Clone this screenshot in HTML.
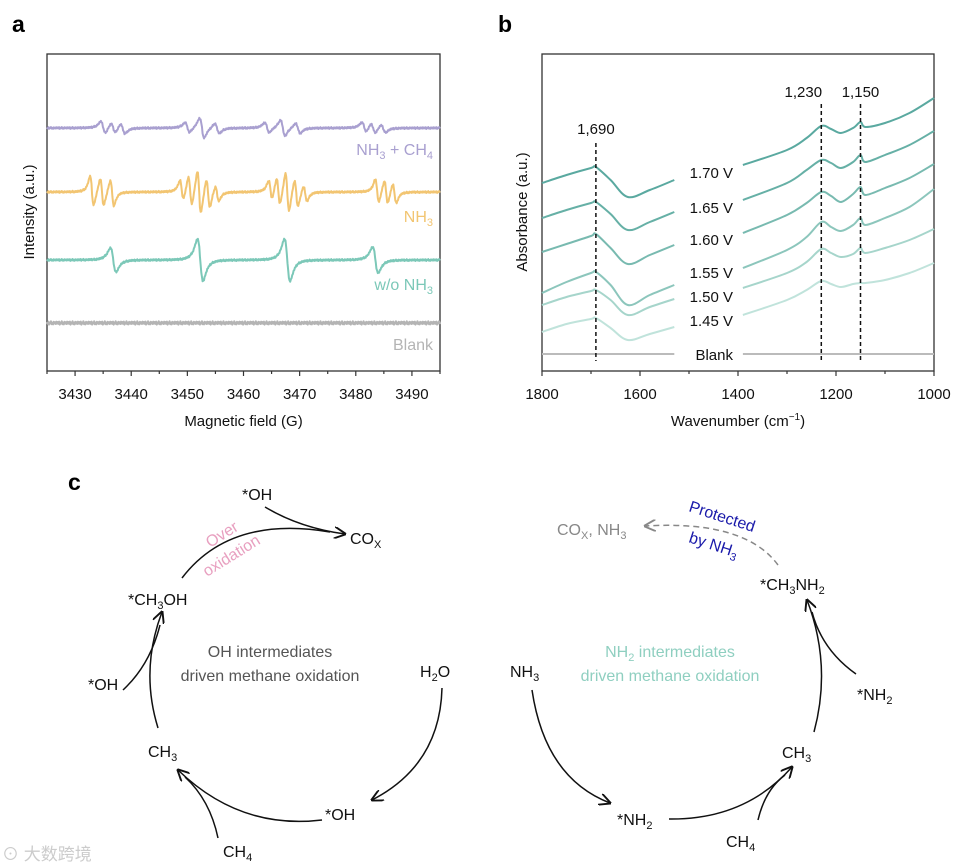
<!DOCTYPE html>
<html><head><meta charset="utf-8">
<style>
html,body{margin:0;padding:0;background:#fff;}
svg{display:block;font-family:"Liberation Sans",Arial,sans-serif;}
</style></head>
<body>
<svg id="fig" width="963" height="867" viewBox="0 0 963 867" xmlns="http://www.w3.org/2000/svg">
<g id="pa"></g>
<g id="pb"></g>
<g id="pc">
<defs>
<marker id="ah" viewBox="0 0 10 10" refX="9" refY="5" markerWidth="8" markerHeight="8" orient="auto-start-reverse"><path d="M0,0 L10,5 L0,10" fill="none" stroke="#111" stroke-width="1.6"/></marker>
<marker id="ahg" viewBox="0 0 10 10" refX="9" refY="5" markerWidth="8" markerHeight="8" orient="auto-start-reverse"><path d="M0,0 L10,5 L0,10" fill="none" stroke="#888" stroke-width="1.6"/></marker>
</defs>
<text x="68" y="490" font-size="23" font-weight="bold">c</text>
<g fill="none" stroke="#111" stroke-width="1.5">
<path d="M265,507 Q300,528 345,534" marker-end="url(#ah)"/>
<path d="M182,578 Q230,515 330,532"/>
<path d="M158,728 Q140,670 162,612" marker-end="url(#ah)"/>
<path d="M123,690 Q150,665 160,625"/>
<path d="M442,688 Q440,765 372,800" marker-end="url(#ah)"/>
<path d="M322,820 Q240,830 178,770" marker-end="url(#ah)"/>
<path d="M218,838 Q210,800 185,777"/>
<path d="M532,690 Q545,778 610,803" marker-end="url(#ah)"/>
<path d="M669,819 Q745,820 792,767" marker-end="url(#ah)"/>
<path d="M758,820 Q765,790 785,775"/>
<path d="M814,732 Q832,665 807,600" marker-end="url(#ah)"/>
<path d="M856,674 Q822,650 812,612"/>
</g>
<path d="M778,565 Q745,520 645,526" fill="none" stroke="#888" stroke-width="1.5" stroke-dasharray="6,4" marker-end="url(#ahg)"/>
<g font-size="16" fill="#111">
<text x="242" y="500">*OH</text>
<text x="350" y="544">CO<tspan font-size="11" dy="4">X</tspan></text>
<text x="128" y="605">*CH<tspan font-size="11" dy="4">3</tspan><tspan dy="-4">OH</tspan></text>
<text x="88" y="690">*OH</text>
<text x="148" y="757">CH<tspan font-size="11" dy="4">3</tspan></text>
<text x="420" y="677">H<tspan font-size="11" dy="4">2</tspan><tspan dy="-4">O</tspan></text>
<text x="325" y="820">*OH</text>
<text x="223" y="857">CH<tspan font-size="11" dy="4">4</tspan></text>
<text x="510" y="677">NH<tspan font-size="11" dy="4">3</tspan></text>
<text x="617" y="825">*NH<tspan font-size="11" dy="4">2</tspan></text>
<text x="726" y="847">CH<tspan font-size="11" dy="4">4</tspan></text>
<text x="782" y="758">CH<tspan font-size="11" dy="4">3</tspan></text>
<text x="857" y="700">*NH<tspan font-size="11" dy="4">2</tspan></text>
<text x="760" y="590">*CH<tspan font-size="11" dy="4">3</tspan><tspan dy="-4">NH</tspan><tspan font-size="11" dy="4">2</tspan></text>
</g>
<text x="557" y="535" font-size="16" fill="#888">CO<tspan font-size="11" dy="4">X</tspan><tspan dy="-4">, NH</tspan><tspan font-size="11" dy="4">3</tspan></text>
<g font-size="16" fill="#555" text-anchor="middle">
<text x="270" y="657">OH intermediates</text>
<text x="270" y="681">driven methane oxidation</text>
</g>
<g font-size="16" fill="#8fcfc0" text-anchor="middle">
<text x="670" y="657">NH<tspan font-size="11" dy="4">2</tspan><tspan dy="-4"> intermediates</tspan></text>
<text x="670" y="681">driven methane oxidation</text>
</g>
<g font-size="16" fill="#e8a0c0">
<text transform="translate(210,548) rotate(-32)">Over</text>
<text transform="translate(207,577) rotate(-32)">oxidation</text>
</g>
<g font-size="16" fill="#1a1aaa">
<text transform="translate(688,511) rotate(18)">Protected</text>
<text transform="translate(688,542) rotate(18)">by NH<tspan font-size="11" dy="4">3</tspan></text>
</g>
<text x="2" y="860" font-size="17" fill="#ccc" font-family="Liberation Sans, Noto Sans CJK SC, sans-serif">⊙ 大数跨境</text>
</g>
</svg>
<script>
// ---------- Panel A data ----------
const epr_names = ["NH3 + CH4","NH3","w/o NH3","Blank"];
const epr_purple_centers = [3435,3436.8,3438.5,3450,3452.6,3455.3,3464.2,3467,3469.7,3481.5,3483.1,3484.9];
const epr_purple_amps = [6,5,5,5,10,5,5,8,5,5,5,4];
const epr_orange_centers = [3433,3434.8,3436.6,3449,3450.5,3452.1,3453.7,3455.3,3464.8,3466.2,3467.8,3469.4,3471,3483.8,3485.4,3486.9];
const epr_orange_amps = [15,14,13,10,15,22,15,8,10,14,20,14,8,12,12,10];
const epr_teal_centers = [3436.8,3452.3,3467.8,3483.5];
const epr_teal_amps = [12,21,21,13];
const epr_offsets = [243,179,111,48];
const epr_ticks = [3430,3440,3450,3460,3470,3480,3490];

// ---------- Panel B data ----------
const ir_left_x = [1800,1750,1700,1690,1660,1625,1580,1530];
const ir_right_x = [1390,1300,1260,1230,1210,1190,1165,1150,1140,1100,1050,1000];
const ir_labels = ["1.70 V","1.65 V","1.60 V","1.55 V","1.50 V","1.45 V"];
const ir_left_170 = [188,196,203,204,191,174,181,191];
const ir_left_165 = [153,161,168,169,157,141,149,159];
const ir_left_160 = [119,127,135,137,123,107,116,126];
const ir_left_155 = [78,89,98,99,86,66,76,86];
const ir_left_150 = [66,74,80,81,71,56,64,72];
const ir_left_145 = [39,47,52,53,43,31,37,44];
const ir_right_170 = [206,221,233,245,242,238,243,249,244,248,258,273];
const ir_right_165 = [171,188,201,211,208,203,209,216,209,216,226,240];
const ir_right_160 = [138,156,168,179,175,169,177,184,176,183,193,207];
const ir_right_155 = [103,121,134,149,144,140,146,153,146,153,164,182];
const ir_right_150 = [83,98,109,122,118,114,117,123,118,123,131,142];
const ir_right_145 = [56,71,81,90,87,84,87,88,88,91,98,108];
const ir_blank = 17;
const ir_ticks = [1800,1600,1400,1200,1000];
const ir_peaks = [1690,1230,1150];
const ir_peak_labels = ["1,690","1,230","1,150"];

const NS="http://www.w3.org/2000/svg";
function mk(parent,tag,attrs){const e=document.createElementNS(NS,tag);for(const k in attrs)e.setAttribute(k,attrs[k]);parent.appendChild(e);return e;}

// ===== Panel A =====
(function(){
const g=document.getElementById('pa');
const X0=47,X1=440,Y0=54,Y1=371;
const xs=v=>X0+(v-3425)/(3495-3425)*(X1-X0);
const ys=v=>Y1-v;
const t=mk(g,'text',{x:12,y:32,'font-size':23,'font-weight':'bold'});t.textContent='a';


const box=mk(g,'rect',{x:X0,y:Y0,width:X1-X0,height:Y1-Y0,fill:'none',stroke:'#333','stroke-width':1.3});


for(let v=3425;v<=3495;v+=5){
 const major=epr_ticks.includes(v);
 const l=mk(g,'line',{x1:xs(v),x2:xs(v),y1:Y1,y2:Y1+(major?5:3),stroke:'#333','stroke-width':1.2});
 
 
}
epr_ticks.forEach(v=>{const e=mk(g,'text',{x:xs(v),y:399,'font-size':15,'text-anchor':'middle',fill:'#111'});e.textContent=v;
 
 });
const xt=mk(g,'text',{x:(X0+X1)/2,y:426,'font-size':15,'text-anchor':'middle',fill:'#111'});xt.textContent='Magnetic field (G)';


const yt=mk(g,'text',{x:0,y:0,'font-size':15,'text-anchor':'middle',fill:'#111',transform:'translate(34,212) rotate(-90)'});yt.textContent='Intensity (a.u.)';


const jit=[0.8,-0.6,1.1,-1.2,0.4,-0.3,1.3,-0.9,0.2,-1.1,0.9,-0.4,0.6,-0.8,1.0,-0.5];
function sig(x,cs,as,w){let s=0;for(let i=0;i<cs.length;i++){const u=(x-cs[i])/w;s+=as[i]*(-u)/Math.pow(1+u*u,2)/0.3248;}return s;}
const series=[[epr_purple_centers,epr_purple_amps,'#a9a0d0',0.7],[epr_orange_centers,epr_orange_amps,'#f2c572',0.55],[epr_teal_centers,epr_teal_amps,'#7cc8b8',0.85],[[],[],'#b4b4b4',0.5]];
const lblY=[155,222,290,350];
series.forEach((s,k)=>{
 let d='';let i=0;
 for(let x=3425;x<=3495;x+=0.12,i++){
  const v=epr_offsets[k]+sig(x,s[0],s[1],s[3])+jit[i%16]*(k==3?1.3:0.7);
  d+=(d?'L':'M')+xs(x).toFixed(1)+','+ys(v).toFixed(1);
 }
 const p=mk(g,'path',{d:d,fill:'none',stroke:s[2],'stroke-width':2,'stroke-linejoin':'round'});
 
 
 const lb=mk(g,'text',{x:433,y:lblY[k],'font-size':16,'text-anchor':'end',fill:s[2]});
 
 
 const nm=epr_names[k];
 if(nm==='NH3 + CH4'){lb.innerHTML='NH<tspan font-size="11" dy="4">3</tspan><tspan dy="-4"> + CH</tspan><tspan font-size="11" dy="4">4</tspan>';}
 else if(nm==='NH3'){lb.innerHTML='NH<tspan font-size="11" dy="4">3</tspan>';}
 else if(nm==='w/o NH3'){lb.innerHTML='w/o NH<tspan font-size="11" dy="4">3</tspan>';}
 else lb.textContent=nm;
});
})();

// ===== Panel B =====
(function(){
const g=document.getElementById('pb');
const X0=542,X1=934,Y0=54,Y1=371;
const xs=v=>X0+(1800-v)/800*(X1-X0);
const ys=v=>Y1-v;
const t=mk(g,'text',{x:498,y:32,'font-size':23,'font-weight':'bold'});t.textContent='b';


const box=mk(g,'rect',{x:X0,y:Y0,width:X1-X0,height:Y1-Y0,fill:'none',stroke:'#333','stroke-width':1.3});


for(let v=1800;v>=1000;v-=100){
 const major=ir_ticks.includes(v);
 const l=mk(g,'line',{x1:xs(v),x2:xs(v),y1:Y1,y2:Y1+(major?5:3),stroke:'#333','stroke-width':1.2});
 
 
}
ir_ticks.forEach(v=>{const e=mk(g,'text',{x:xs(v),y:399,'font-size':15,'text-anchor':'middle',fill:'#111'});e.textContent=v;
 
 });
const xt=mk(g,'text',{x:(X0+X1)/2,y:426,'font-size':15,'text-anchor':'middle',fill:'#111'});
xt.innerHTML='Wavenumber (cm<tspan font-size="10" dy="-6">−1</tspan><tspan dy="6">)</tspan>';


const yt=mk(g,'text',{x:0,y:0,'font-size':15,'text-anchor':'middle',fill:'#111',transform:'translate(527,212) rotate(-90)'});yt.textContent='Absorbance (a.u.)';


const L=[ir_left_170,ir_left_165,ir_left_160,ir_left_155,ir_left_150,ir_left_145];
const R=[ir_right_170,ir_right_165,ir_right_160,ir_right_155,ir_right_150,ir_right_145];
const cols=['#5aa9a0','#66b0a6','#78bab0','#8cc6bc','#a6d5cb','#c0e3db'];
const lblY=[178,213,245,278,302,326];
function path(xa,ya){
 const P=xa.map((x,i)=>[xs(x),ys(ya[i])]);
 let d='M'+P[0][0].toFixed(1)+','+P[0][1].toFixed(1);
 for(let i=0;i<P.length-1;i++){
  const p0=P[Math.max(i-1,0)],p1=P[i],p2=P[i+1],p3=P[Math.min(i+2,P.length-1)];
  const c1=[p1[0]+(p2[0]-p0[0])/6,p1[1]+(p2[1]-p0[1])/6];
  const c2=[p2[0]-(p3[0]-p1[0])/6,p2[1]-(p3[1]-p1[1])/6];
  d+='C'+c1[0].toFixed(1)+','+c1[1].toFixed(1)+' '+c2[0].toFixed(1)+','+c2[1].toFixed(1)+' '+p2[0].toFixed(1)+','+p2[1].toFixed(1);
 }
 return d;
}
for(let k=5;k>=0;k--){
 const p1=mk(g,'path',{d:path(ir_left_x,L[k]),fill:'none',stroke:cols[k],'stroke-width':2,'stroke-linejoin':'round'});
 
 
 const p2=mk(g,'path',{d:path(ir_right_x,R[k]),fill:'none',stroke:cols[k],'stroke-width':2,'stroke-linejoin':'round'});
 
 
 const lb=mk(g,'text',{x:733,y:lblY[k],'font-size':15,'text-anchor':'end',fill:'#111'});lb.textContent=ir_labels[k];
 
 
}
const b1=mk(g,'path',{d:path([1800,1530],[ir_blank,ir_blank]),stroke:'#bbb','stroke-width':2,fill:'none'});


const b2=mk(g,'path',{d:path([1390,1000],[ir_blank,ir_blank]),stroke:'#bbb','stroke-width':2,fill:'none'});


const bl=mk(g,'text',{x:733,y:360,'font-size':15,'text-anchor':'end',fill:'#111'});bl.textContent='Blank';


const tops=[143,104,104],lty=[134,97,97],ldx=[0,-18,0];
ir_peaks.forEach((v,i)=>{
 const l=mk(g,'line',{x1:xs(v),x2:xs(v),y1:tops[i],y2:361,stroke:'#111','stroke-width':1.5,'stroke-dasharray':'4,3'});
 
 
 const tx=mk(g,'text',{x:xs(v)+ldx[i],y:lty[i],'font-size':15,'text-anchor':'middle',fill:'#111'});tx.textContent=ir_peak_labels[i];
 
 
});
})();
</script>
</body></html>
